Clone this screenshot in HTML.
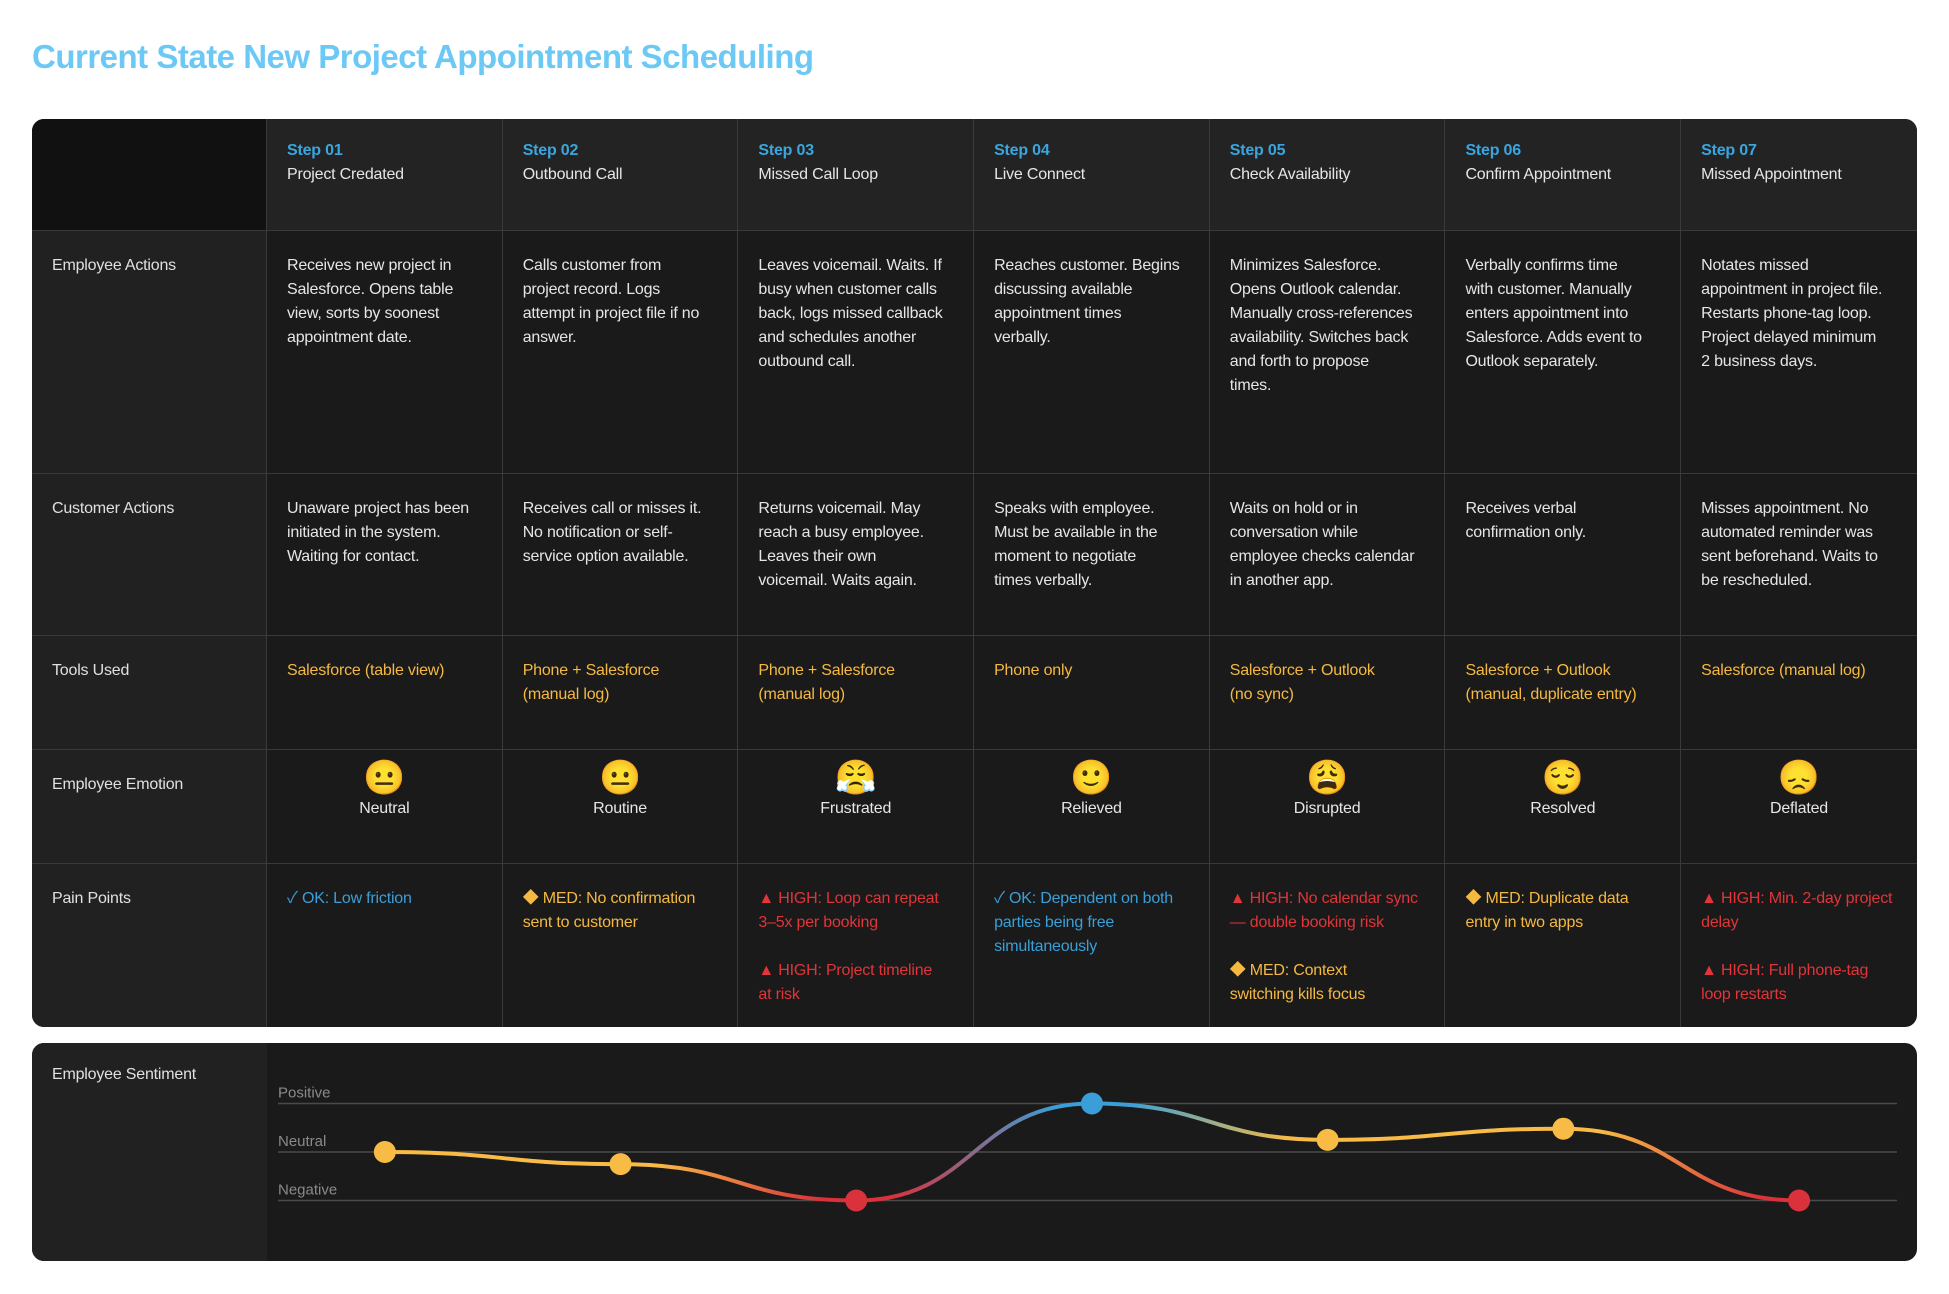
<!DOCTYPE html>
<html><head><meta charset="utf-8">
<style>
*{box-sizing:border-box;margin:0;padding:0}
body{width:1949px;height:1294px;background:#fff;font-family:"Liberation Sans","Noto Sans CJK JP",sans-serif;position:relative;overflow:hidden}
h1{position:absolute;left:32px;top:38px;font-size:33px;font-weight:bold;color:#6cc9f5;letter-spacing:-0.5px}
#map{position:absolute;left:32px;top:119px;width:1885px;height:908px;border-radius:12px;overflow:hidden;background:#1a1a1a;display:grid;grid-template-columns:235px repeat(7,235.7px);grid-template-rows:112px 243px 162px 114px 114px 163px}
.c{border-right:1px solid #3a3a3a;border-bottom:1px solid #3a3a3a;padding:23px 20px 0 20px;font-size:16px;line-height:24px;color:#e6e6e6;white-space:nowrap;letter-spacing:-0.2px}
.c:nth-child(8n){border-right:none}
.corner{background:#111}
.hd{background:#232323;padding-top:20px}
.lab{background:#212121;color:#e0e0e0}
.step{color:#3aa6e0;font-weight:bold}
.y{color:#f5b942}.r{color:#e0353a}.b{color:#3a9fd8}
.emo{text-align:center;padding:9px 0 0 0}
.emo .e{font-size:34px;line-height:38px;display:block}
#sent{position:absolute;left:32px;top:1043px;width:1885px;height:218px;border-radius:12px;overflow:hidden;background:#1a1a1a}
#sent .lab2{position:absolute;left:0;top:0;width:235px;height:218px;background:#212121;color:#e0e0e0;font-size:16px;padding:23px 20px;letter-spacing:-0.2px}
svg{position:absolute;left:0;top:0}
</style></head><body>
<h1>Current State New Project Appointment Scheduling</h1>
<div id="map">
<div class="c corner"></div>
<div class="c hd"><span class="step">Step 01</span><br>Project Credated</div>
<div class="c hd"><span class="step">Step 02</span><br>Outbound Call</div>
<div class="c hd"><span class="step">Step 03</span><br>Missed Call Loop</div>
<div class="c hd"><span class="step">Step 04</span><br>Live Connect</div>
<div class="c hd"><span class="step">Step 05</span><br>Check Availability</div>
<div class="c hd"><span class="step">Step 06</span><br>Confirm Appointment</div>
<div class="c hd"><span class="step">Step 07</span><br>Missed Appointment</div>

<div class="c lab">Employee Actions</div>
<div class="c">Receives new project in<br>Salesforce. Opens table<br>view, sorts by soonest<br>appointment date.</div>
<div class="c">Calls customer from<br>project record. Logs<br>attempt in project file if no<br>answer.</div>
<div class="c">Leaves voicemail. Waits. If<br>busy when customer calls<br>back, logs missed callback<br>and schedules another<br>outbound call.</div>
<div class="c">Reaches customer. Begins<br>discussing available<br>appointment times<br>verbally.</div>
<div class="c">Minimizes Salesforce.<br>Opens Outlook calendar.<br>Manually cross-references<br>availability. Switches back<br>and forth to propose<br>times.</div>
<div class="c">Verbally confirms time<br>with customer. Manually<br>enters appointment into<br>Salesforce. Adds event to<br>Outlook separately.</div>
<div class="c">Notates missed<br>appointment in project file.<br>Restarts phone-tag loop.<br>Project delayed minimum<br>2 business days.</div>

<div class="c lab">Customer Actions</div>
<div class="c">Unaware project has been<br>initiated in the system.<br>Waiting for contact.</div>
<div class="c">Receives call or misses it.<br>No notification or self-<br>service option available.</div>
<div class="c">Returns voicemail. May<br>reach a busy employee.<br>Leaves their own<br>voicemail. Waits again.</div>
<div class="c">Speaks with employee.<br>Must be available in the<br>moment to negotiate<br>times verbally.</div>
<div class="c">Waits on hold or in<br>conversation while<br>employee checks calendar<br>in another app.</div>
<div class="c">Receives verbal<br>confirmation only.</div>
<div class="c">Misses appointment. No<br>automated reminder was<br>sent beforehand. Waits to<br>be rescheduled.</div>

<div class="c lab">Tools Used</div>
<div class="c y">Salesforce (table view)</div>
<div class="c y">Phone + Salesforce<br>(manual log)</div>
<div class="c y">Phone + Salesforce<br>(manual log)</div>
<div class="c y">Phone only</div>
<div class="c y">Salesforce + Outlook<br>(no sync)</div>
<div class="c y">Salesforce + Outlook<br>(manual, duplicate entry)</div>
<div class="c y">Salesforce (manual log)</div>

<div class="c lab">Employee Emotion</div>
<div class="c emo"><span class="e">😐</span>Neutral</div>
<div class="c emo"><span class="e">😐</span>Routine</div>
<div class="c emo"><span class="e">😤</span>Frustrated</div>
<div class="c emo"><span class="e">🙂</span>Relieved</div>
<div class="c emo"><span class="e">😩</span>Disrupted</div>
<div class="c emo"><span class="e">😌</span>Resolved</div>
<div class="c emo"><span class="e">😞</span>Deflated</div>

<div class="c lab" style="border-bottom:none">Pain Points</div>
<div class="c b" style="border-bottom:none">✓ OK: Low friction</div>
<div class="c y" style="border-bottom:none">◆ MED: No confirmation<br>sent to customer</div>
<div class="c r" style="border-bottom:none">▲ HIGH: Loop can repeat<br>3–5x per booking<br><br>▲ HIGH: Project timeline<br>at risk</div>
<div class="c b" style="border-bottom:none">✓ OK: Dependent on both<br>parties being free<br>simultaneously</div>
<div class="c" style="border-bottom:none"><span class="r">▲ HIGH: No calendar sync<br>— double booking risk</span><br><br><span class="y">◆ MED: Context<br>switching kills focus</span></div>
<div class="c y" style="border-bottom:none">◆ MED: Duplicate data<br>entry in two apps</div>
<div class="c r" style="border-bottom:none">▲ HIGH: Min. 2-day project<br>delay<br><br>▲ HIGH: Full phone-tag<br>loop restarts</div>
</div>

<div id="sent">
<div class="lab2">Employee Sentiment</div>
<svg id="chart" width="1885" height="218"></svg>
</div>

<script>
const steps = ["Step 01","Step 02","Step 03","Step 04","Step 05","Step 06","Step 07"];
const sentiment = [0, -0.25, -1, 1, 0.25, 0.48, -1];
const levels = ["Positive","Neutral","Negative"];
const levelValues = [1, 0, -1];

const NS = "http://www.w3.org/2000/svg";
const svg = document.getElementById("chart");
const colW = 235.7, labW = 235;
function xPos(i){ return labW + colW*(i+0.5); }
function yPos(v){ return 109 - v*48.5; }
function colorFor(v){ return v >= 0.75 ? "#3a9fd8" : (v <= -0.75 ? "#d9323a" : "#f8bb45"); }

const defs = document.createElementNS(NS,"defs");
svg.appendChild(defs);

levels.forEach((lab,k)=>{
  const y = yPos(levelValues[k]);
  const ln = document.createElementNS(NS,"line");
  ln.setAttribute("x1",246); ln.setAttribute("x2",1865);
  ln.setAttribute("y1",y); ln.setAttribute("y2",y);
  ln.setAttribute("stroke","#4a4a4a"); ln.setAttribute("stroke-width","1.5");
  
  
  svg.appendChild(ln);
  const t = document.createElementNS(NS,"text");
  t.setAttribute("x",246); t.setAttribute("y",y-6);
  t.setAttribute("fill","#8a8a8a"); t.setAttribute("font-size","15");
  t.setAttribute("font-family","Liberation Sans, sans-serif");
  t.textContent = lab;
  
  
  svg.appendChild(t);
});

for(let i=0;i<sentiment.length-1;i++){
  const x0=xPos(i), y0=yPos(sentiment[i]), x1=xPos(i+1), y1=yPos(sentiment[i+1]);
  const g = document.createElementNS(NS,"linearGradient");
  g.setAttribute("id","g"+i); g.setAttribute("gradientUnits","userSpaceOnUse");
  g.setAttribute("x1",x0); g.setAttribute("x2",x1); g.setAttribute("y1",0); g.setAttribute("y2",0);
  const s1=document.createElementNS(NS,"stop"); s1.setAttribute("offset","0.15"); s1.setAttribute("stop-color",colorFor(sentiment[i]));
  const s2=document.createElementNS(NS,"stop"); s2.setAttribute("offset","0.85"); s2.setAttribute("stop-color",colorFor(sentiment[i+1]));
  g.appendChild(s1); g.appendChild(s2); defs.appendChild(g);
  const dx=(x1-x0)/2;
  const p = document.createElementNS(NS,"path");
  p.setAttribute("d",`M${x0},${y0} C${x0+dx},${y0} ${x1-dx},${y1} ${x1},${y1}`);
  p.setAttribute("fill","none"); p.setAttribute("stroke","url(#g"+i+")"); p.setAttribute("stroke-width","4");
  
  
  svg.appendChild(p);
}
sentiment.forEach((v,i)=>{
  const c = document.createElementNS(NS,"circle");
  c.setAttribute("cx",xPos(i)); c.setAttribute("cy",yPos(v)); c.setAttribute("r",11);
  c.setAttribute("fill",colorFor(v));
  
  
  svg.appendChild(c);
});
</script>
</body></html>
